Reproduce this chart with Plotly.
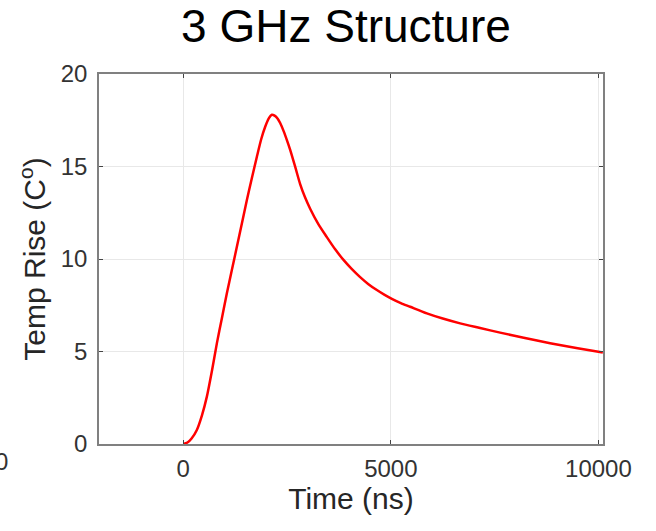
import plotly.graph_objects as go

# values (time in ns, temperature rise in C)
time_ns = [0, 100, 200, 327, 450, 568, 690, 809, 930, 1050, 1170, 1291, 1410, 1532,
           1650, 1773, 1880, 1973, 2060, 2134, 2200, 2270, 2334, 2420, 2500, 2575,
           2700, 2815, 2930, 3056, 3250, 3459, 3650, 3859, 4050, 4260, 4460, 4663,
           4850, 5024, 5240, 5465, 5867, 6250, 6669, 7150, 7632, 8200, 8836, 9500, 10106]
temp_rise = [0, 0.08, 0.3, 0.76, 1.55, 2.56, 3.95, 5.44, 6.8, 8.15, 9.4, 10.66, 11.9, 13.19,
             14.35, 15.53, 16.5, 17.15, 17.6, 17.8, 17.75, 17.6, 17.35, 16.9, 16.4, 15.9,
             14.95, 14.05, 13.35, 12.72, 11.9, 11.18, 10.55, 9.95, 9.48, 9.02, 8.64, 8.32,
             8.06, 7.85, 7.62, 7.42, 7.06, 6.78, 6.52, 6.27, 6.02, 5.74, 5.45, 5.18, 4.95]

x_ticks = [0, 5000, 10000]
x_tick_labels = ["0", "5000", "10000"]
y_ticks = [0, 5, 10, 15, 20]

FONT = "Liberation Sans, Arial"

fig = go.Figure()
fig.add_trace(go.Scatter(x=time_ns, y=temp_rise, mode="lines",
                         line=dict(color="#ff0000", width=2.5, shape="spline", smoothing=0.7)))

axis_style = dict(showline=True, mirror="ticks", linecolor="#808080", linewidth=1.5,
                  ticks="inside", ticklen=4, tickcolor="#444444",
                  showgrid=True, gridcolor="#e8e8e8", gridwidth=1, zeroline=False,
                  tickfont=dict(family=FONT, size=24, color="#333333"))

fig.update_xaxes(range=[-2030, 10110], tickvals=x_ticks, ticktext=x_tick_labels,
                 ticklabelstandoff=2,
                 title=dict(text="Time (ns)", font=dict(family=FONT, size=30, color="#262626"),
                            standoff=4),
                 **axis_style)
fig.update_yaxes(range=[0, 20], tickvals=y_ticks, ticklabelstandoff=5,
                 title=dict(text="Temp Rise (C<sup>o</sup>)",
                            font=dict(family=FONT, size=30, color="#262626"),
                            standoff=6),
                 **axis_style)

fig.update_layout(
    width=656, height=531,
    margin=dict(l=99, r=53, t=74, b=87),
    paper_bgcolor="white", plot_bgcolor="white",
    showlegend=False,
    title=dict(text="3 GHz Structure", xref="paper", x=0.49, xanchor="center",
               y=0.951, yanchor="middle",
               font=dict(family=FONT, size=46, color="#000000")),
)

# stray tick label cut off at the left edge of the reference
fig.add_annotation(text="0", xref="paper", yref="paper", x=-0.194, y=-0.046,
                   xanchor="center", yanchor="middle", showarrow=False,
                   font=dict(family=FONT, size=24, color="#333333"))

# drop the default 8px page margin so the figure fills the window exactly
fig.write_html("out.html", config={"displayModeBar": False},
               post_script="document.body.style.margin='0';")
